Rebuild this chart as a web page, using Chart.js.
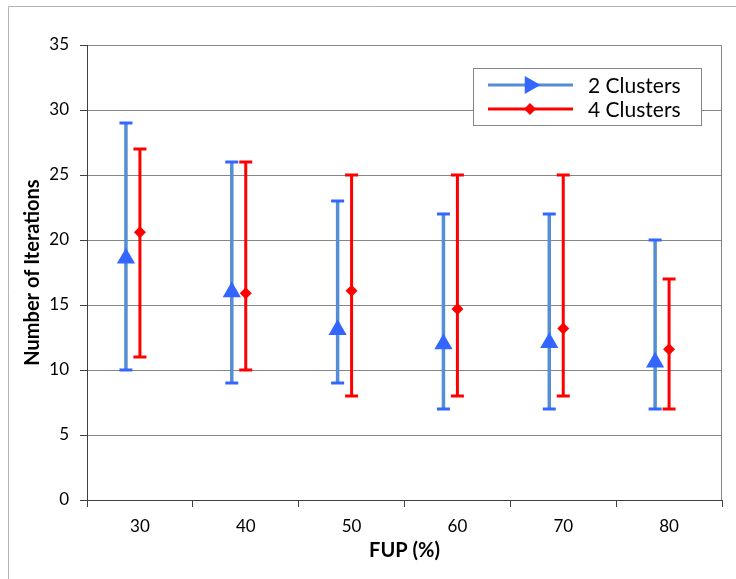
<!DOCTYPE html>
<html>
<head>
<meta charset="utf-8">
<script src="https://cdn.jsdelivr.net/npm/chart.js@4.4.1/dist/chart.umd.min.js"></script>
<style>
  html, body { margin: 0; padding: 0; background: #fff; }
  #wrap { position: relative; width: 736px; height: 579px; }
</style>
</head>
<body>
<div id="wrap"><canvas id="chart" width="736" height="579"></canvas></div>
<script>
// FUP levels on the x axis
const fupLevels = [30, 40, 50, 60, 70, 80];
const seriesNames = ["2 Clusters", "4 Clusters"];

// 2 clusters: mean, min, max iterations
const twoMean = [18.6, 16.0, 13.1, 12.0, 12.1, 10.6];
const twoMin = [10, 9, 9, 7, 7, 7];
const twoMax = [29, 26, 23, 22, 22, 20];

// 4 clusters: mean, min, max iterations
const fourMean = [20.6, 15.9, 16.1, 14.7, 13.2, 11.6];
const fourMin = [11, 10, 8, 8, 8, 7];
const fourMax = [27, 26, 25, 25, 25, 17];

const yMax = 35;
const yStep = 5;

// blue series sits a bit left of the category centre
const halfCat = 5;
const blueShift = -1.32;

const blueLine = "#558ed5";
const blueMark = "#3366ff";
const red = "#ff0000";

function errorPoints(lows, highs, shift) {
  const pts = [];
  fupLevels.forEach((f, i) => {
    pts.push({ x: f + shift, y: lows[i] });
    pts.push({ x: f + shift, y: highs[i] });
    pts.push({ x: f + shift, y: null });
  });
  return pts;
}

function meanPoints(means, shift) {
  return fupLevels.map((f, i) => ({ x: f + shift, y: means[i] }));
}

const frame = {
  id: "frame",
  beforeDraw(chart) {
    const ctx = chart.ctx;
    ctx.save();
    ctx.strokeStyle = "#b3b3b3";
    ctx.lineWidth = 1;
    ctx.beginPath();
    ctx.moveTo(8.5, 579);
    ctx.lineTo(8.5, 6.5);
    ctx.lineTo(736, 6.5);
    ctx.stroke();
    ctx.restore();
  },
  beforeDatasetsDraw(chart) {
    const a = chart.chartArea;
    const ctx = chart.ctx;
    ctx.save();
    ctx.strokeStyle = "#868686";
    ctx.lineWidth = 1;
    ctx.beginPath();
    ctx.moveTo(Math.round(a.right) - 0.5, a.top);
    ctx.lineTo(Math.round(a.right) - 0.5, a.bottom);
    ctx.stroke();
    ctx.restore();
  }
};

const legendBox = {
  id: "legendBox",
  afterDraw(chart) {
    const ctx = chart.ctx;
    ctx.save();
    ctx.fillStyle = "#fff";
    ctx.fillRect(473.5, 68.5, 228, 57);
    ctx.strokeStyle = "#868686";
    ctx.lineWidth = 1;
    ctx.strokeRect(473.5, 68.5, 228, 57);

    const rows = [
      { y: 85, line: blueLine, mark: blueMark, style: "triangle", r: 10.5, rot: 90 },
      { y: 109, line: red, mark: red, style: "rectRot", r: 6, rot: 0 }
    ];
    rows.forEach((row, i) => {
      ctx.strokeStyle = row.line;
      ctx.lineWidth = 3;
      ctx.beginPath();
      ctx.moveTo(488, row.y);
      ctx.lineTo(573, row.y);
      ctx.stroke();
      ctx.fillStyle = row.mark;
      ctx.strokeStyle = row.mark;
      Chart.helpers.drawPoint(ctx, {
        pointStyle: row.style,
        radius: row.r,
        rotation: row.rot,
        borderWidth: 0
      }, 530, row.y);
      ctx.fillStyle = "#000";
      ctx.font = "21px Lato";
      ctx.textBaseline = "middle";
      ctx.fillText(seriesNames[i], 588, row.y + 1);
    });
    ctx.restore();
  }
};

Chart.defaults.font.family = "Lato";
Chart.defaults.color = "#000";

new Chart(document.getElementById("chart"), {
  type: "scatter",
  data: {
    datasets: [
      {
        label: seriesNames[0] + " mean",
        data: meanPoints(twoMean, blueShift),
        pointStyle: "triangle",
        pointRadius: 10.5,
        pointBackgroundColor: blueMark,
        pointBorderWidth: 0,
        order: 0
      },
      {
        label: seriesNames[1] + " mean",
        data: meanPoints(fourMean, 0),
        pointStyle: "rectRot",
        pointRadius: 6,
        pointBackgroundColor: red,
        pointBorderWidth: 0,
        order: 0
      },
      {
        label: seriesNames[0] + " range",
        data: errorPoints(twoMin, twoMax, blueShift),
        showLine: true,
        spanGaps: false,
        borderColor: blueLine,
        borderWidth: 3.5,
        pointStyle: "line",
        pointRadius: 6.5,
        pointBorderColor: blueMark,
        pointBorderWidth: 3,
        order: 1
      },
      {
        label: seriesNames[1] + " range",
        data: errorPoints(fourMin, fourMax, 0),
        showLine: true,
        spanGaps: false,
        borderColor: red,
        borderWidth: 3,
        pointStyle: "line",
        pointRadius: 6.5,
        pointBorderColor: red,
        pointBorderWidth: 3,
        order: 1
      }
    ]
  },
  options: {
    responsive: false,
    devicePixelRatio: 1,
    animation: false,
    layout: { padding: { left: 0, top: 45, right: 14, bottom: 0 } },
    plugins: {
      legend: { display: false },
      tooltip: { enabled: false }
    },
    scales: {
      x: {
        type: "linear",
        min: fupLevels[0] - halfCat,
        max: fupLevels[fupLevels.length - 1] + halfCat,
        afterBuildTicks(scale) {
          const t = [];
          fupLevels.forEach((f) => {
            t.push({ value: f - halfCat });
            t.push({ value: f });
          });
          t.push({ value: fupLevels[fupLevels.length - 1] + halfCat });
          scale.ticks = t;
        },
        afterFit(scale) { scale.height = 79; },
        ticks: {
          autoSkip: false,
          maxRotation: 0,
          padding: 9,
          font: { size: 17 },
          callback: (v) => (fupLevels.includes(v) ? String(v) : "")
        },
        grid: {
          drawOnChartArea: false,
          tickLength: 7,
          tickColor: (c) => (c.tick && fupLevels.includes(c.tick.value) ? "rgba(0,0,0,0)" : "#404040")
        },
        border: { color: "#404040", width: 1 },
        title: {
          display: true,
          text: "FUP (%)",
          font: { size: 20, weight: "bold" },
          padding: { top: 0, bottom: 16 }
        }
      },
      y: {
        min: 0,
        max: yMax,
        afterFit(scale) { scale.width = 87; },
        ticks: {
          stepSize: yStep,
          padding: 11,
          font: { size: 17 }
        },
        grid: {
          color: "#868686",
          tickColor: "#404040",
          tickLength: 7
        },
        border: { color: "#404040", width: 1 },
        title: {
          display: true,
          text: "Number of Iterations",
          font: { size: 20, weight: "bold" },
          padding: { top: 21, bottom: 0 }
        }
      }
    }
  },
  plugins: [frame, legendBox]
});
</script>
</body>
</html>
